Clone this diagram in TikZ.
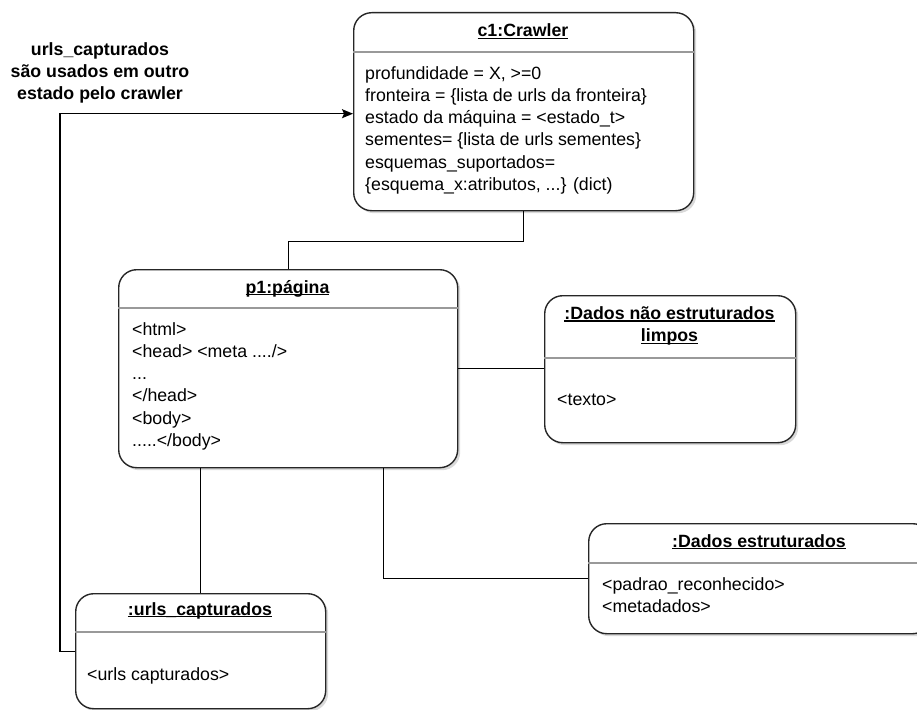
\documentclass[tikz,border=0pt]{standalone}
\usepackage{fontspec}
\setmainfont{Liberation Sans}
\usetikzlibrary{shadows,arrows.meta}
\newcommand\myul[1]{\setbox0\hbox{#1}\rlap{\rule[-2.3pt]{\wd0}{1.1pt}}\box0}
\begin{document}
\begin{tikzpicture}[x=1pt,y=-1pt,
  umlbox/.style={draw=black!85, line width=1.4pt, rounded corners=18pt, fill=white,
    inner sep=0pt, anchor=north west,
    drop shadow={shadow xshift=2.5pt, shadow yshift=-2.5pt, opacity=0.3}},
  sepline/.style={draw=black!40, line width=1.2pt},
  conn/.style={draw=black, line width=1.3pt},
  txt/.style={font=\fontsize{17.75}{22.2}\selectfont, inner sep=0pt, align=left, anchor=north west},
  ttl/.style={font=\fontsize{17.75}{22.2}\selectfont\bfseries, inner sep=0pt},
]
\useasboundingbox (0,0) rectangle (917,709);
\clip (0,0) rectangle (917,709);

% boxes
\node[umlbox, minimum width=340pt, minimum height=198pt] (c1) at (353,12) {};
\node[umlbox, minimum width=339pt, minimum height=198pt] (p1) at (118,269) {};
\node[umlbox, minimum width=251pt, minimum height=147pt] (dn) at (544,295) {};
\node[umlbox, minimum width=342pt, minimum height=110pt] (de) at (588,523) {};
\node[umlbox, minimum width=250pt, minimum height=115pt] (urls) at (75,593) {};

% separators
\draw[sepline] (c1.west |- 0,52) -- (c1.east |- 0,52);
\draw[sepline] (p1.west |- 0,308) -- (p1.east |- 0,308);
\draw[sepline] (dn.west |- 0,358) -- (dn.east |- 0,358);
\draw[sepline] (de.west |- 0,563) -- (de.east |- 0,563);
\draw[sepline] (urls.west |- 0,632) -- (urls.east |- 0,632);

% titles
\node[ttl, anchor=base] (c1h) at (523,37) {\myul{c1:Crawler}};
\node[ttl, anchor=base] (p1h) at (287.5,293) {\myul{p1:página}};
\node[ttl, anchor=north, align=center] (dnh) at (669.5,303.5) {\strut\myul{:Dados não estruturados}\\\myul{limpos}};
\node[ttl, anchor=base] (deh) at (759,547) {\myul{:Dados estruturados}};
\node[ttl, anchor=base] (urlsh) at (200,615) {\myul{:urls\_capturados}};

% bodies
\node[txt] (c1t) at (365,63.5) {\strut profundidade = X, >=0\\fronteira = \{lista de urls da fronteira\}\\estado da máquina = <estado\_t>\\sementes= \{lista de urls sementes\}\\esquemas\_suportados=\\\{esquema\_x:atributos, ...\} (dict)};
\node[txt] (p1t) at (132,319.5) {\strut <html>\\<head> <meta ..../>\\...\\</head>\\<body>\\.....</body>};
\node[txt, anchor=base west] (dnt) at (557,405) {<texto>};
\node[txt] (det) at (602,574.5) {\strut <padrao\_reconhecido>\\<metadados>};
\node[txt, anchor=base west] (urlst) at (87,680) {<urls capturados>};

% label
\node[ttl, anchor=north, align=center] (lbl) at (100,39.5) {\strut urls\_capturados\\são usados em outro\\estado pelo crawler};

% connectors
\draw[conn] (c1.south) -- ++(0,30) -| (p1.north);
\draw[conn] (p1.east) -- (p1.east -| dn.west);
\draw[conn] (urls.north) -- (urls.north |- p1.south);
\coordinate (p1r) at ([xshift=95.5pt]p1.south);
\draw[conn] (p1r) |- (de.west);
\draw[conn, -{Stealth[length=11pt,width=9pt,inset=2pt]}] (urls.west) -- ++(-15,0) |- ([yshift=-2pt]c1.west);
\end{tikzpicture}
\end{document}
